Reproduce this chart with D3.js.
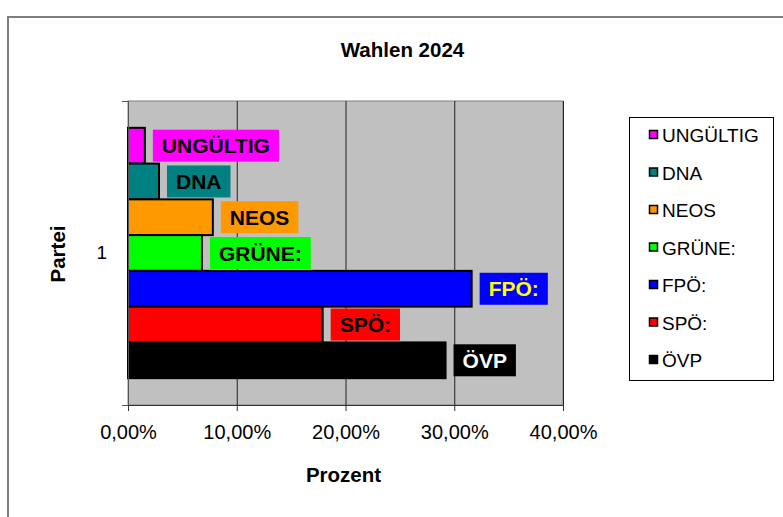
<!DOCTYPE html>
<html lang="de">
<head>
    <meta charset="UTF-8">
    <title>Wahlen 2024</title>
    <script src="https://d3js.org/d3.v7.min.js"></script>
    <style>
        body { margin: 0; background: #fff; }
        text { font-family: Arial, "Liberation Sans", sans-serif; }
    </style>
</head>
<body>
<div id="chart"></div>
<script>
    // data, listed top to bottom as drawn
    let parties = ['UNGÜLTIG', 'DNA', 'NEOS', 'GRÜNE:', 'FPÖ:', 'SPÖ:', 'ÖVP'];
    let values = [1.55, 2.85, 7.8, 6.8, 31.6, 17.9, 29.2];
    let colors = ['#FF00FF', '#008080', '#FF9900', '#00FF00', '#0000FF', '#FF0000', '#000000'];
    let labelColors = ['#000', '#000', '#000', '#000', '#FFFF00', '#000', '#fff'];
    let categories = ['1'];
    let xTicks = [0, 10, 20, 30, 40];

    let margin = {top: 101, left: 128};
    let width = 435, height = 304;

    let svg = d3.select('#chart')
        .append('svg')
        .attr('width', 783)
        .attr('height', 517);

    // outer chart border
    svg.append('rect')
        .attr('x', 8).attr('y', 17)
        .attr('width', 820).attr('height', 560)
        .attr('fill', '#fff')
        .attr('stroke', '#7f7f7f')
        .attr('stroke-width', 2);

    svg.append('text')
        .attr('x', 402.5).attr('y', 57)
        .attr('text-anchor', 'middle')
        .style('font-size', '20.5px').style('font-weight', 'bold')
        .text('Wahlen 2024');

    let g = svg.append('g')
        .attr('transform', 'translate(' + margin.left + ',' + margin.top + ')');

    let x = d3.scaleLinear().domain([0, 40]).range([0, width]);
    let yCat = d3.scaleBand().domain(categories).range([0, height]);
    let y = d3.scaleBand()
        .domain(parties)
        .range([0, yCat.bandwidth()])
        .paddingInner(0)
        .paddingOuter(0.75);

    // plot area
    g.append('rect')
        .attr('width', width).attr('height', height)
        .attr('fill', '#C0C0C0')
        .attr('stroke', '#808080');

    // gridlines
    g.append('g')
        .call(d3.axisBottom(x).tickValues(xTicks.slice(1)).tickSize(height).tickFormat(''))
        .call(a => a.select('.domain').remove())
        .selectAll('line').attr('stroke', '#222');

    // bars
    g.selectAll('.bar')
        .data(parties)
        .enter().append('rect')
        .attr('class', 'bar')
        .attr('x', x(0))
        .attr('y', (d) => yCat('1') + y(d))
        .attr('width', (d, i) => x(values[i]))
        .attr('height', y.bandwidth())
        .attr('fill', (d, i) => colors[i])
        .attr('stroke', '#000')
        .attr('stroke-width', 2);

    // data labels
    let lab = g.selectAll('.lab')
        .data(parties)
        .enter().append('g')
        .attr('class', 'lab')
        .attr('transform', (d, i) => 'translate(' + (x(values[i]) + 8) + ',' + (yCat('1') + y(d) + y.bandwidth() / 2) + ')');
    let boxes = lab.append('rect')
        .attr('y', -16).attr('height', 32)
        .attr('fill', (d, i) => colors[i]);
    let texts = lab.append('text')
        .attr('x', 9).attr('y', 7.5)
        .style('font-size', '21px').style('font-weight', 'bold')
        .attr('fill', (d, i) => labelColors[i])
        .text((d) => d);
    texts.each(function (d, i) {
        d3.select(boxes.nodes()[i]).attr('width', this.getComputedTextLength() + 18);
    });

    // x axis
    let fmt = d3.formatLocale({decimal: ',', thousands: '.', grouping: [3], currency: ['', '€']});
    let xAxis = g.append('g')
        .attr('transform', 'translate(0,' + height + ')')
        .call(d3.axisBottom(x).tickValues(xTicks).tickSize(6).tickPadding(14)
            .tickFormat((d) => fmt.format('.2f')(d) + '%'));
    xAxis.select('.domain').attr('stroke', '#333').attr('d', 'M-6,0.5H' + width);
    xAxis.selectAll('line').attr('stroke', '#333');
    xAxis.selectAll('text').style('font-size', '20px').attr('fill', '#000');

    // y axis ticks at category edges
    let yEdge = d3.scaleLinear().domain([0, 1]).range([height, 0]);
    let yAxis = g.append('g')
        .call(d3.axisLeft(yEdge).tickValues([0, 1]).tickSize(6).tickFormat(''));
    yAxis.select('.domain').attr('stroke', '#555').attr('d', 'M0.5,0V' + height);
    yAxis.selectAll('line').attr('stroke', '#555');

    g.append('g')
        .call(d3.axisLeft(yCat).tickSize(0).tickPadding(21))
        .call(a => a.select('.domain').remove())
        .selectAll('text').style('font-size', '19px').attr('fill', '#000');

    // axis titles
    svg.append('text')
        .attr('transform', 'translate(65,254) rotate(-90)')
        .attr('text-anchor', 'middle')
        .style('font-size', '20.5px').style('font-weight', 'bold')
        .text('Partei');
    svg.append('text')
        .attr('x', 343.5).attr('y', 482)
        .attr('text-anchor', 'middle')
        .style('font-size', '20.5px').style('font-weight', 'bold')
        .text('Prozent');

    // legend
    let legend = svg.append('g');
    legend.append('rect')
        .attr('x', 629.5).attr('y', 117.5)
        .attr('width', 144).attr('height', 263)
        .attr('fill', '#fff').attr('stroke', '#000');
    let item = legend.selectAll('.item')
        .data(parties)
        .enter().append('g')
        .attr('transform', (d, i) => 'translate(0,' + (142 + i * 37.5) + ')');
    item.append('rect')
        .attr('x', 649.5).attr('y', -11.5)
        .attr('width', 8).attr('height', 8)
        .attr('fill', (d, i) => colors[i])
        .attr('stroke', '#000').attr('stroke-width', 1.5);
    item.append('text')
        .attr('x', 662)
        .style('font-size', '19px')
        .text((d) => d);
</script>
</body>
</html>
